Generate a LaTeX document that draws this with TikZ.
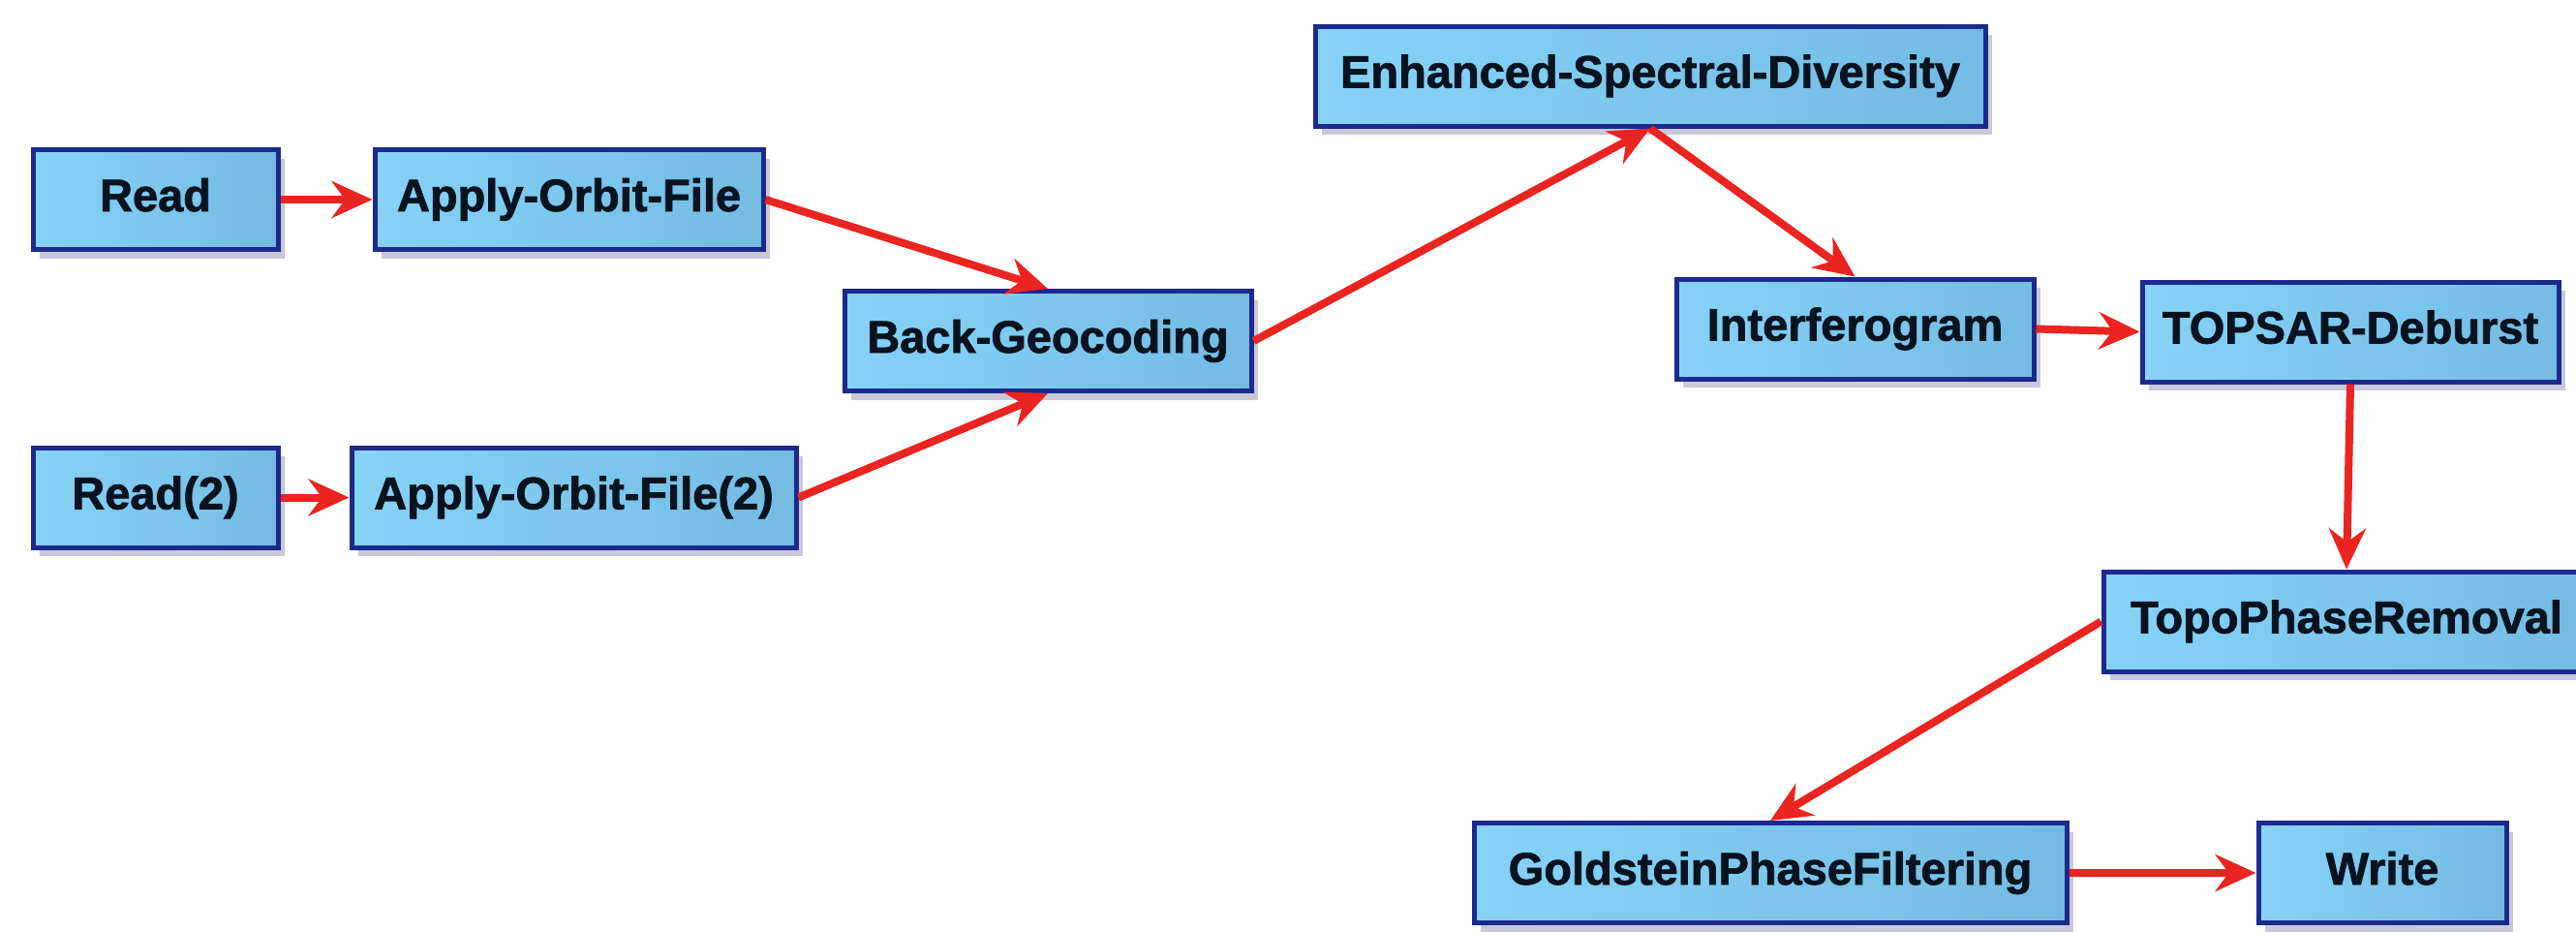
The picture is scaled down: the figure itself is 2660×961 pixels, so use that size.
\documentclass[tikz,border=0pt]{standalone}
\usepackage{fontspec}
\setmainfont{Liberation Sans}
\newfontfamily\heavyfont[FakeBold=1.6]{Liberation Sans}
\usetikzlibrary{arrows.meta,shadows}
\definecolor{boxborder}{HTML}{1B2A8C}
\definecolor{boxleft}{HTML}{86D3F7}
\definecolor{boxright}{HTML}{74BBE2}
\definecolor{arrowred}{HTML}{EA2420}
\definecolor{txt}{HTML}{081320}
\begin{document}
\begin{tikzpicture}[x=1pt,y=-1pt,
  opbox/.style={draw=boxborder, line width=5pt, left color=boxleft, right color=boxright,
    minimum height=103pt, inner sep=0pt,
    font=\fontsize{47}{50}\heavyfont\bfseries, text=txt, text height=35pt, text depth=11pt,
    drop shadow={shadow xshift=7pt, shadow yshift=-9pt, opacity=0.3, fill=blue!30!black!70}},
  flow/.style={draw=arrowred, line width=8pt, -{Stealth[length=42pt,width=38pt,inset=14pt]}}
]
\fill[white] (0,0) rectangle (2660,961);
\useasboundingbox (0,0) rectangle (2660,961);

\node[opbox, minimum width=253pt] (read)  at (160.5,206)  {Read};
\node[opbox, minimum width=401pt] (aof)   at (587.5,206)  {Apply-Orbit-File};
\node[opbox, minimum width=253pt] (read2) at (160.5,513.5) {Read(2)};
\node[opbox, minimum width=459pt] (aof2)  at (592.5,513.5) {Apply-Orbit-File(2)};
\node[opbox, minimum width=420pt] (bg)    at (1082,352)   {Back-Geocoding};
\node[opbox, minimum width=692pt] (esd)   at (1704,78.5)  {Enhanced-Spectral-Diversity};
\node[opbox, minimum width=369pt] (ifg)   at (1915.5,339.5) {Interferogram};
\node[opbox, minimum width=430pt] (deb)   at (2427,342.5) {TOPSAR-Deburst};
\node[opbox, minimum width=502pt] (tpr)   at (2423,641.5) {TopoPhaseRemoval};
\node[opbox, minimum width=612pt] (gpf)   at (1828,901)   {GoldsteinPhaseFiltering};
\node[opbox, minimum width=256pt] (write) at (2460,901)   {Write};

\draw[flow] (read.east) -- (aof.west);
\draw[flow] (read2.east) -- (aof2.west);
\draw[flow] (aof.east) -- (bg.north);
\draw[flow] (aof2.east) -- (bg.south);
\draw[flow] (bg.east) -- (esd.south);
\draw[flow] (esd.south) -- (ifg.north);
\draw[flow] (ifg.east) -- (deb.west);
\draw[flow] (deb.south) -- (tpr.north);
\draw[flow] (tpr.west) -- (gpf.north);
\draw[flow] (gpf.east) -- (write.west);
\end{tikzpicture}
\end{document}
